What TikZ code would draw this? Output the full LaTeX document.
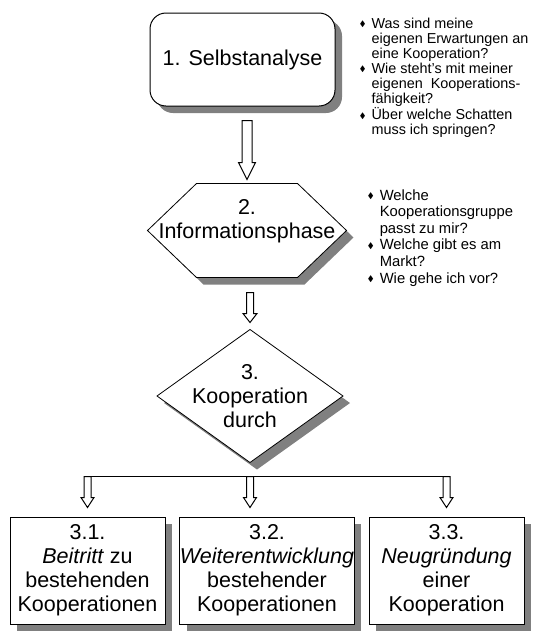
\documentclass[tikz,border=0pt]{standalone}
\usepackage{amssymb}
\usepackage{graphicx}
\usepackage{fontspec}
\setmainfont{Liberation Sans}
\usetikzlibrary{calc, backgrounds, shadows}

\definecolor{shadowgray}{RGB}{128,128,128}
\newcommand{\bul}{\raisebox{0.2ex}{\scalebox{0.55}{$\blacklozenge$}}}
\newcommand{\hollowarrow}[5]{%
  \draw [arrowline] let \p1=(#1), \p2=(#2) in
    (\x2-#3,\y1) -- (\x2-#3,\y2+#5) -- (\x2-#4,\y2+#5) -- (\x2,\y2)
    -- (\x2+#4,\y2+#5) -- (\x2+#3,\y2+#5) -- (\x2+#3,\y1) -- cycle;}

\tikzset{
  shadowed/.style={fill=white, drop shadow={shadow xshift=3.5pt, shadow yshift=-3.5pt, fill=shadowgray, opacity=1}},
  mainfont/.style={font={\fontsize{10.75}{12}\selectfont}, align=center},
  stepbox/.style={mainfont, draw, shadowed, inner sep=0pt, minimum height=53.5pt},
  arrowline/.style={draw, fill=white},
  questions/.style={anchor=base west, inner sep=0pt, align=left},
}

\begin{document}
\begin{tikzpicture}[x=0.5pt, y=-0.5pt, line width=0.5pt]
  \useasboundingbox (0,0) rectangle (533,632);

  % the three steps
  \node (self) [mainfont, draw, shadowed, rounded corners=8pt, minimum width=92.5pt, minimum height=46.5pt] at (242.5,59.5) {1. Selbstanalyse};
  \node (info) [mainfont, inner sep=0pt, minimum width=99pt, minimum height=46.5pt] at (247,230.5) {2.\\Informationsphase\\\mbox{}};
  \node (coop) [mainfont, inner sep=0pt, minimum width=92.5pt, minimum height=66pt] at (250,396) {3.\\Kooperation\\durch};
  \begin{scope}[on background layer]
    \draw [shadowed] (info.west) -- ($(info.north west)+(49,0)$) -- ($(info.north east)+(-49,0)$)
      -- (info.east) -- ($(info.south east)+(-49,0)$) -- ($(info.south west)+(49,0)$) -- cycle;
    \draw [shadowed] (coop.north) -- (coop.east) -- (coop.south) -- (coop.west) -- cycle;
  \end{scope}

  % kinds of cooperation
  \node (join) [stepbox, minimum width=77.5pt] at (87.5,570.5) {3.1.\\\textit{Beitritt} zu\\bestehenden\\Kooperationen};
  \node (develop) [stepbox, minimum width=87pt] at (267,570.5) {3.2.\\\textit{Weiterentwicklung}\\bestehender\\Kooperationen};
  \node (found) [stepbox, minimum width=77.5pt] at (446.5,570.5) {3.3.\\\textit{Neugründung}\\einer\\Kooperation};

  % questions
  \node (selfq) [questions, font={\fontsize{7.2}{7.5}\selectfont}] at (359,28) {%
    \begin{tabular}[t]{@{}l@{\hspace{3pt}}l@{}}
      \bul & Was sind meine\\
           & eigenen Erwartungen an\\
           & eine Kooperation?\\
      \bul & Wie steht's mit meiner\\
           & eigenen~ Kooperations-\\
           & fähigkeit?\\
      \bul & Über welche Schatten\\
           & muss ich springen?
    \end{tabular}};
  \node (infoq) [questions, font={\fontsize{7.4}{8.3}\selectfont}] at (367,200) {%
    \begin{tabular}[t]{@{}l@{\hspace{3pt}}l@{}}
      \bul & Welche\\
           & Kooperationsgruppe\\
           & passt zu mir?\\
      \bul & Welche gibt es am\\
           & Markt?\\
      \bul & Wie gehe ich vor?
    \end{tabular}};

  % arrows
  \hollowarrow{$(self.south)+(0,14)$}{$(info.north)+(0,-4)$}{2.5pt}{4.25pt}{8.5pt}
  \hollowarrow{$(info.south)+(0,15)$}{$(coop.north)+(0,-7)$}{1.75pt}{3.5pt}{4.5pt}
  \coordinate (bus) at ($(coop.south)+(0,14)$);
  \draw ($(bus -| join.north)+(3.5,0)$) -- ($(bus -| found.north)+(3.5,0)$);
  \hollowarrow{bus}{$(join.north)+(0,-9)$}{1.75pt}{3.25pt}{5pt}
  \hollowarrow{bus}{$(develop.north -| coop.south)+(0,-9)$}{1.75pt}{3.25pt}{5pt}
  \hollowarrow{bus}{$(found.north)+(0,-9)$}{1.75pt}{3.25pt}{5pt}
\end{tikzpicture}
\end{document}
